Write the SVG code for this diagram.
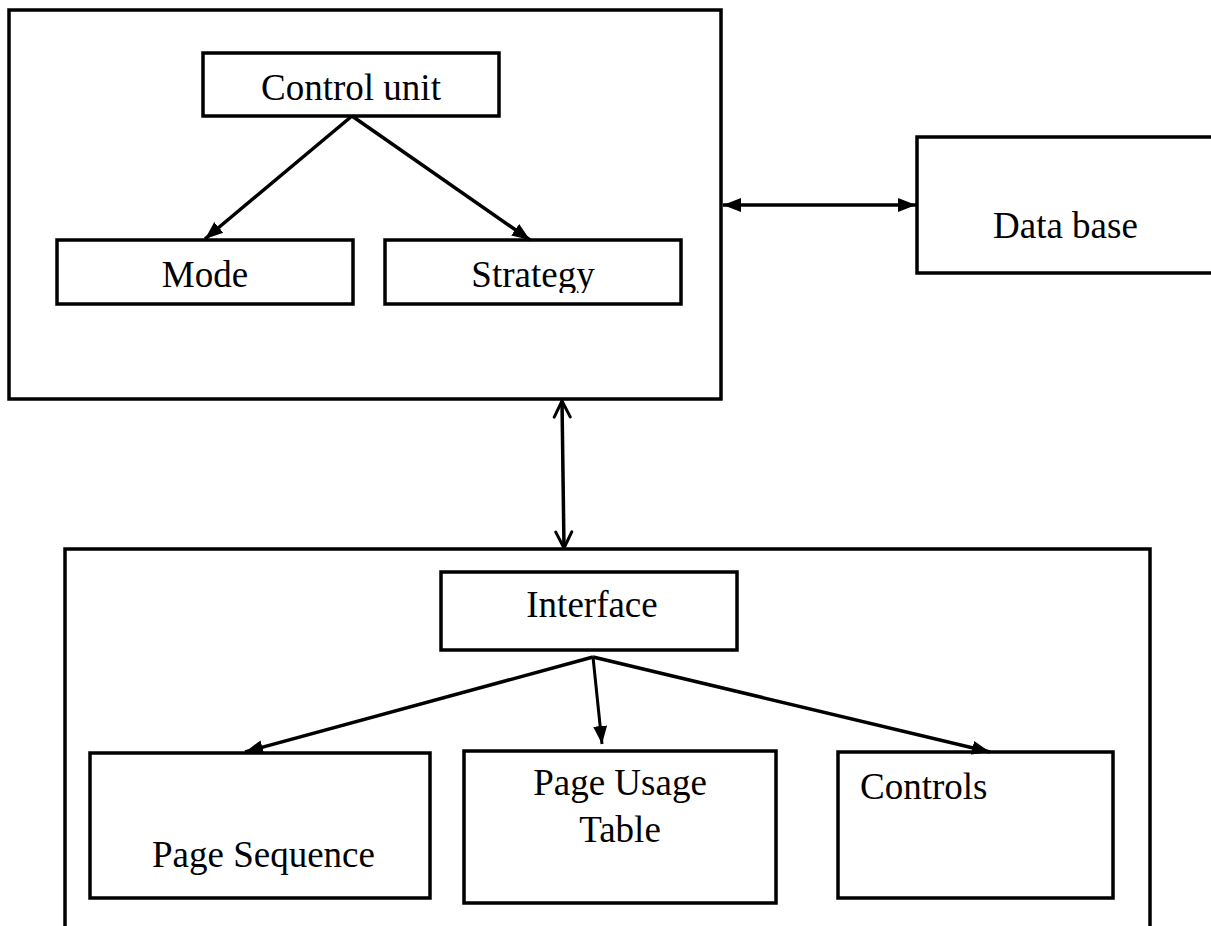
<svg xmlns="http://www.w3.org/2000/svg" width="1211" height="926" viewBox="0 0 1211 926">
<style>
.box{fill:#fff;stroke:#000;stroke-width:3.5}
.frame{fill:none;stroke:#000;stroke-width:3.5}
.t{font-family:"Liberation Serif","Times New Roman",serif;font-size:37px;fill:#000}
.c{stroke:#000;stroke-width:3.5;fill:none}
</style>
<defs>
<marker id="ah" markerUnits="userSpaceOnUse" markerWidth="20" markerHeight="16" viewBox="0 0 20 16" refX="18" refY="8" orient="auto-start-reverse">
<path d="M0,1 L18,8 L0,15 Z" fill="#000"/>
</marker>
<marker id="oh" markerUnits="userSpaceOnUse" markerWidth="20" markerHeight="20" viewBox="0 0 20 20" refX="18" refY="10" orient="auto-start-reverse">
<path d="M2,2 L18,10 L2,18" fill="none" stroke="#000" stroke-width="3" stroke-linecap="round" stroke-linejoin="round"/>
</marker>
<clipPath id="clipStrat"><rect x="385" y="240" width="296" height="53"/></clipPath>
</defs>
<rect width="1211" height="926" fill="#fff"/>
<g id="system">
<rect class="frame" x="9" y="10" width="712" height="389"/>
</g>
<g id="control-unit">
<rect class="box" x="203" y="53" width="296" height="63"/>
<text class="t" x="351" y="100" text-anchor="middle">Control unit</text>
</g>
<g id="mode">
<rect class="box" x="57" y="240" width="296" height="64"/>
<text class="t" x="205" y="287" text-anchor="middle">Mode</text>
</g>
<g id="strategy">
<rect class="box" x="385" y="240" width="296" height="64"/>
<text class="t" x="533" y="287" text-anchor="middle" clip-path="url(#clipStrat)">Strategy</text>
</g>
<g id="database">
<rect class="box" x="917" y="137" width="320" height="136"/>
<text class="t" x="993" y="238">Data base</text>
</g>
<g id="interface-system">
<rect class="frame" x="65" y="549" width="1085" height="400"/>
</g>
<g id="interface">
<rect class="box" x="441" y="572" width="296" height="78"/>
<text class="t" x="592" y="617" text-anchor="middle">Interface</text>
</g>
<g id="page-sequence">
<rect class="box" x="90" y="753" width="340" height="145"/>
<text class="t" x="152" y="867">Page Sequence</text>
</g>
<g id="page-usage-table">
<rect class="box" x="464" y="751" width="312" height="152"/>
<text class="t" x="620" y="795" text-anchor="middle">Page Usage</text>
<text class="t" x="620" y="842" text-anchor="middle">Table</text>
</g>
<g id="controls">
<rect class="box" x="838" y="752" width="275" height="146"/>
<text class="t" x="860" y="799">Controls</text>
</g>
<g id="connectors">
<line class="c" x1="352" y1="116" x2="205" y2="239" marker-end="url(#ah)"/>
<line class="c" x1="352" y1="116" x2="530" y2="240" marker-end="url(#ah)"/>
<line class="c" x1="723" y1="205" x2="916" y2="205" marker-start="url(#ah)" marker-end="url(#ah)"/>
<line class="c" x1="562" y1="401" x2="564" y2="548" marker-start="url(#oh)" marker-end="url(#oh)"/>
<line class="c" x1="593" y1="657" x2="245" y2="752" marker-end="url(#ah)"/>
<line class="c" x1="593" y1="657" x2="602" y2="744" marker-end="url(#ah)" style="stroke-width:3"/>
<line class="c" x1="593" y1="657" x2="990" y2="752" marker-end="url(#ah)"/>
</g>
</svg>
